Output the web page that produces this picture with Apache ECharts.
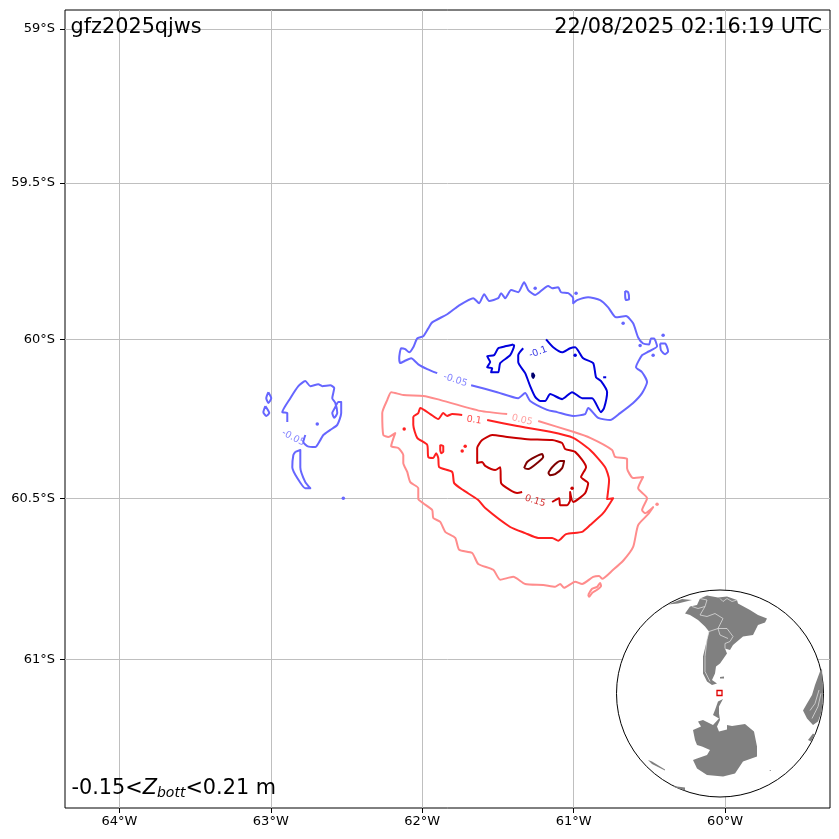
<!DOCTYPE html>
<html><head><meta charset="utf-8">
<style>html,body{margin:0;padding:0;background:#fff}#c{width:839px;height:839px}</style>
<script src="https://cdn.jsdelivr.net/npm/echarts@6/dist/echarts.min.js"></script>
</head><body><div id="c"></div>
<script>
const lonTicks=[-64,-63,-62,-61,-60];
const latTicks=[-59,-59.5,-60,-60.5,-61];
const blueMain=[[-61.901,-60.107],[-61.967,-60.094],[-62.026,-60.079],[-62.073,-60.060],[-62.106,-60.066],[-62.145,-60.075],[-62.152,-60.060],[-62.139,-60.028],[-62.112,-60.031],[-62.086,-60.041],[-62.059,-60.025],[-62.033,-59.997],[-61.993,-59.990],[-61.960,-59.965],[-61.934,-59.946],[-61.835,-59.920],[-61.762,-59.894],[-61.663,-59.869],[-61.624,-59.885],[-61.591,-59.856],[-61.558,-59.878],[-61.498,-59.869],[-61.479,-59.853],[-61.452,-59.869],[-61.413,-59.843],[-61.366,-59.850],[-61.327,-59.818],[-61.300,-59.843],[-61.254,-59.859],[-61.234,-59.853],[-61.168,-59.830],[-61.142,-59.837],[-61.102,-59.834],[-61.083,-59.850],[-61.036,-59.853],[-61.003,-59.869],[-61.003,-59.885],[-60.977,-59.875],[-60.904,-59.866],[-60.825,-59.875],[-60.772,-59.898],[-60.720,-59.930],[-60.654,-59.926],[-60.607,-59.949],[-60.574,-59.994],[-60.541,-60.013],[-60.502,-60.016],[-60.489,-59.997],[-60.469,-59.997],[-60.449,-60.022],[-60.515,-60.041],[-60.548,-60.050],[-60.588,-60.088],[-60.548,-60.104],[-60.515,-60.135],[-60.548,-60.170],[-60.607,-60.201],[-60.693,-60.233],[-60.759,-60.255],[-60.838,-60.248],[-60.904,-60.217],[-60.924,-60.236],[-61.003,-60.242],[-61.109,-60.230],[-61.175,-60.223],[-61.287,-60.195],[-61.320,-60.170],[-61.366,-60.186],[-61.505,-60.167],[-61.677,-60.145]];
const blueLeft=[[-62.772,-60.302],[-62.785,-60.324],[-62.759,-60.337],[-62.706,-60.340],[-62.673,-60.318],[-62.653,-60.302],[-62.607,-60.286],[-62.561,-60.270],[-62.535,-60.233],[-62.535,-60.198],[-62.554,-60.198],[-62.574,-60.214],[-62.594,-60.233],[-62.581,-60.248],[-62.561,-60.233],[-62.574,-60.201],[-62.594,-60.186],[-62.581,-60.154],[-62.607,-60.145],[-62.660,-60.148],[-62.686,-60.142],[-62.739,-60.148],[-62.772,-60.132],[-62.818,-60.148],[-62.871,-60.186],[-62.924,-60.230],[-62.891,-60.233],[-62.891,-60.261]];
const blueLoops=[
[[-62.838,-60.355],[-62.805,-60.349],[-62.805,-60.403],[-62.772,-60.450],[-62.739,-60.469],[-62.772,-60.469],[-62.825,-60.437],[-62.858,-60.403],[-62.851,-60.365],[-62.838,-60.355]],
[[-63.016,-60.167],[-62.997,-60.186],[-63.016,-60.201],[-63.030,-60.186],[-63.016,-60.167]],
[[-63.036,-60.211],[-63.010,-60.233],[-63.030,-60.242],[-63.049,-60.230],[-63.036,-60.211]],
[[-60.660,-59.846],[-60.640,-59.850],[-60.634,-59.872],[-60.654,-59.875],[-60.660,-59.859],[-60.660,-59.846]],
[[-60.429,-60.013],[-60.396,-60.013],[-60.376,-60.038],[-60.396,-60.047],[-60.423,-60.035],[-60.429,-60.013]]];
const blueDots=[[-61.254,-59.837],[-60.984,-59.853],[-60.673,-59.949],[-60.561,-60.019],[-60.409,-59.987],[-60.475,-60.050],[-62.521,-60.500],[-62.693,-60.267]];
const darkBlueLeft=[[-61.399,-60.016],[-61.452,-60.022],[-61.498,-60.028],[-61.525,-60.050],[-61.571,-60.053],[-61.551,-60.072],[-61.571,-60.088],[-61.538,-60.091],[-61.545,-60.104],[-61.498,-60.104],[-61.485,-60.075],[-61.419,-60.050],[-61.393,-60.019],[-61.399,-60.016]];
const darkBlueRight=[[-61.333,-60.028],[-61.366,-60.050],[-61.366,-60.072],[-61.320,-60.107],[-61.287,-60.148],[-61.254,-60.182],[-61.221,-60.195],[-61.188,-60.195],[-61.155,-60.173],[-61.076,-60.189],[-61.010,-60.167],[-60.944,-60.186],[-60.878,-60.186],[-60.819,-60.230],[-60.799,-60.217],[-60.779,-60.167],[-60.819,-60.132],[-60.852,-60.120],[-60.871,-60.075],[-60.937,-60.060],[-60.990,-60.025],[-61.023,-60.028],[-61.076,-60.041],[-61.135,-60.025],[-61.182,-60.000]];
const darkBlueDash=[[-60.805,-60.120],[-60.785,-60.120]];
const darkBlueDots=[[-60.990,-60.050]];
const navyLoop=[[-61.272,-60.106],[-61.260,-60.114],[-61.267,-60.122],[-61.274,-60.115],[-61.272,-60.106]];
const pinkMain=[[-61.234,-60.258],[-61.003,-60.292],[-60.891,-60.311],[-60.746,-60.349],[-60.726,-60.371],[-60.647,-60.377],[-60.647,-60.406],[-60.607,-60.437],[-60.541,-60.434],[-60.574,-60.469],[-60.515,-60.500],[-60.548,-60.537],[-60.528,-60.547],[-60.475,-60.528],[-60.508,-60.550],[-60.574,-60.584],[-60.607,-60.652],[-60.673,-60.695],[-60.739,-60.723],[-60.812,-60.751],[-60.832,-60.742],[-60.871,-60.745],[-60.944,-60.767],[-60.990,-60.760],[-61.063,-60.779],[-61.089,-60.767],[-61.122,-60.776],[-61.201,-60.770],[-61.320,-60.767],[-61.399,-60.745],[-61.485,-60.754],[-61.531,-60.723],[-61.630,-60.705],[-61.670,-60.671],[-61.756,-60.661],[-61.782,-60.624],[-61.848,-60.605],[-61.881,-60.574],[-61.927,-60.562],[-61.934,-60.537],[-61.993,-60.516],[-62.026,-60.503],[-62.026,-60.469],[-62.079,-60.450],[-62.099,-60.418],[-62.125,-60.390],[-62.125,-60.365],[-62.158,-60.343],[-62.205,-60.337],[-62.178,-60.296],[-62.224,-60.308],[-62.257,-60.302],[-62.264,-60.233],[-62.231,-60.192],[-62.205,-60.167],[-62.125,-60.176],[-61.993,-60.179],[-61.901,-60.189],[-61.617,-60.226],[-61.439,-60.236]];
const pinkIsland=[[-60.904,-60.801],[-60.878,-60.782],[-60.845,-60.776],[-60.825,-60.764],[-60.819,-60.773],[-60.845,-60.785],[-60.878,-60.795],[-60.898,-60.807],[-60.904,-60.801]];
const pinkDots=[[-60.449,-60.519]];
const redMain=[[-61.571,-60.255],[-61.373,-60.274],[-61.155,-60.292],[-61.003,-60.311],[-60.891,-60.349],[-60.792,-60.403],[-60.766,-60.443],[-60.779,-60.503],[-60.739,-60.500],[-60.805,-60.547],[-60.891,-60.584],[-60.944,-60.605],[-61.050,-60.612],[-61.102,-60.633],[-61.142,-60.624],[-61.234,-60.624],[-61.320,-60.609],[-61.419,-60.590],[-61.584,-60.531],[-61.630,-60.506],[-61.729,-60.475],[-61.789,-60.453],[-61.802,-60.418],[-61.888,-60.403],[-61.894,-60.374],[-61.908,-60.359],[-61.927,-60.374],[-61.960,-60.371],[-61.967,-60.333],[-62.033,-60.311],[-62.059,-60.270],[-62.059,-60.245],[-62.026,-60.233],[-62.013,-60.217],[-61.947,-60.236],[-61.894,-60.252],[-61.861,-60.233],[-61.835,-60.242],[-61.802,-60.236],[-61.736,-60.239]];
const redOval=[[-61.881,-60.333],[-61.861,-60.337],[-61.861,-60.355],[-61.875,-60.359],[-61.881,-60.349],[-61.881,-60.333]];
const redDots=[[-62.119,-60.283],[-61.716,-60.337],[-61.736,-60.352]];
const crimsonMain=[[-61.142,-60.512],[-61.096,-60.500],[-61.089,-60.522],[-61.043,-60.522],[-61.023,-60.506],[-61.023,-60.481],[-61.003,-60.512],[-60.924,-60.484],[-60.904,-60.453],[-60.951,-60.434],[-60.918,-60.403],[-60.990,-60.355],[-61.056,-60.346],[-61.076,-60.327],[-61.142,-60.318],[-61.307,-60.315],[-61.439,-60.308],[-61.538,-60.302],[-61.604,-60.318],[-61.637,-60.343],[-61.637,-60.390],[-61.604,-60.387],[-61.584,-60.399],[-61.518,-60.412],[-61.485,-60.403],[-61.479,-60.453],[-61.419,-60.475],[-61.373,-60.484],[-61.340,-60.481]];
const crimsonDots=[[-61.010,-60.469]];
const maroonBlobA=[[-61.327,-60.406],[-61.307,-60.387],[-61.254,-60.371],[-61.208,-60.362],[-61.201,-60.371],[-61.241,-60.390],[-61.300,-60.409],[-61.327,-60.406]];
const maroonBlobB=[[-61.168,-60.421],[-61.142,-60.403],[-61.089,-60.384],[-61.063,-60.384],[-61.076,-60.406],[-61.122,-60.425],[-61.155,-60.428],[-61.168,-60.421]];
const contourLabels=[[-61.782,-60.129,'-0.05',-18,'#6666ff'],[-61.234,-60.041,'-0.1',20,'#0000dd'],[-61.340,-60.255,'0.05',-13,'#ff8888'],[-61.657,-60.255,'0.1',-8,'#ff2020'],[-61.254,-60.509,'0.15',-17,'#cc0000'],[-62.851,-60.311,'-0.05',-28,'#6666ff']];

// inset globe, disc coordinates
const southAmerica=[[-35,80],[-30,87],[-23,88.5],[-20,95],[-13,98],[-2,96],[7,97],[17,93.5],[18,90],[30,83.5],[38,78.5],[47,75],[45,71],[38,68.5],[33,58.5],[23,57],[13,48.5],[10,43.5],[5,45],[7,40],[0,30],[-4,27],[-5,20],[-8,13.5],[-3,10],[-8,8.5],[-13,12],[-17,20],[-17,37],[-11,62],[-15,67],[-22,73.5],[-30,78.5]];
const antarctica=[[3,-5.5],[-2,-8],[-5,-16.5],[-7,-21.5],[-1,-25],[-7,-31.5],[-17,-26.5],[-22,-28],[-19,-33],[-27,-36.5],[-25,-46.5],[-23,-51.5],[-18,-53],[-10,-56.5],[-13,-61.5],[-23,-65],[-27,-66.5],[-23,-75],[-13,-81.5],[3,-83],[15,-80],[23,-68],[37,-63],[37,-53],[34,-38],[25,-30.5],[12,-32.5],[7,-31.5],[7,-36],[-1,-38],[-3,-33],[0,-26.5],[-1,-20],[-1,-13]];
const africa=[[102,25],[100,22],[95,8.5],[92,-1.5],[87,-10],[83,-17],[87,-25],[93,-31.5],[98,-28],[102,-17],[103,3.5]];
const madagascar=[[88,-46.5],[93,-40],[95,-41.5],[91,-48]];
const falkland=[[0,16.5],[4,17],[4,15],[0,15]];
const shelfA=[[-72,-66.5],[-68,-70.5],[-55,-77],[-55,-76],[-68,-68]];
const shelfB=[[-47,-92.5],[-35,-94],[-35,-97],[-45,-94]];
const shelfC=[[49,-77.5],[51,-76.5],[51,-77.5]];
const centralAm=[[-52,89],[-38,94.5],[-28,93.5],[-42,90]];
const arabia=[[77,70],[85,55],[84,57],[76,71]];
const landRings=[southAmerica,antarctica,africa,madagascar,falkland,shelfA,shelfB,shelfC,centralAm,arabia];
const borderLines=[
[[-11,62],[-13,54],[-15,37],[-15,22],[-10,12]],
[[-20,95],[-13,93.5],[-15,87],[-22,85],[-28,87]],
[[-15,87],[-20,78.5],[-13,77],[-5,80],[3,75],[-2,65],[7,65],[13,57],[10,52],[5,50],[5,45]],
[[-11,62],[-2,65]],
[[-2,65],[0,58.5],[8,55]],
[[0,95],[3,92],[7,95],[12,92],[17,93.5]],
[[90,-17],[95,-10],[99,3.5]],
[[92,-25],[98,-13],[101,0.2]]];
const globeCentre=[[0,0]];
const regionBox=[[-0.5,0.5]];

const merc=lat=>-Math.asinh(Math.tan(Math.abs(lat)*Math.PI/180));
const invMerc=m=>-Math.atan(Math.sinh(-m))*180/Math.PI;
const P=pts=>pts.map(p=>[p[0],merc(p[1])]);
const L=(pts,color)=>({type:'line',xAxisIndex:0,yAxisIndex:0,data:P(pts),showSymbol:false,symbol:'none',silent:true,z:5,
  lineStyle:{color:color,width:2,join:'round'},smooth:0.2});
const D=(pts,color,size)=>({type:'scatter',xAxisIndex:0,yAxisIndex:0,data:P(pts),symbolSize:size||3.5,itemStyle:{color:color,opacity:1},silent:true,z:5});
const C={b1:'#6666ff',b2:'#0000dd',b3:'#00006e',r1:'#ff8c8c',r2:'#ff2020',r3:'#c80000',r4:'#800000'};
const series=[
 L(blueMain,C.b1),L(blueLeft,C.b1),...blueLoops.map(r=>L(r,C.b1)),D(blueDots,C.b1),
 L(darkBlueLeft,C.b2),L(darkBlueRight,C.b2),L(darkBlueDash,C.b2),D(darkBlueDots,C.b2),L(navyLoop,C.b3),
 L(pinkMain,C.r1),L(pinkIsland,C.r1),D(pinkDots,C.r1),
 L(redMain,C.r2),L(redOval,C.r2),D(redDots,C.r2),
 L(crimsonMain,C.r3),D(crimsonDots,C.r3),L(maroonBlobA,C.r4),L(maroonBlobB,C.r4),
 {type:'scatter',xAxisIndex:0,yAxisIndex:0,symbolSize:0,silent:true,z:6,
  data:contourLabels.map(l=>({value:[l[0],merc(l[1])],label:{show:true,position:'inside',formatter:l[2],rotate:l[3],color:l[4],fontSize:9.5,fontFamily:'DejaVu Sans'}}))},
 {type:'scatter',xAxisIndex:1,yAxisIndex:1,data:globeCentre,symbolSize:207,silent:true,z:10,
  itemStyle:{color:'#fff',borderColor:'#000',borderWidth:1,opacity:1}},
 {type:'custom',xAxisIndex:1,yAxisIndex:1,silent:true,z:11,clip:false,data:landRings.map((r,i)=>[i]),
  renderItem:(p,api)=>({type:'polygon',shape:{points:landRings[api.value(0)].map(q=>api.coord(q))},style:{fill:'#808080'}})},
 ...borderLines.map(b=>({type:'line',xAxisIndex:1,yAxisIndex:1,data:b,symbol:'none',silent:true,z:12,lineStyle:{color:'#e8e8e8',width:0.7}})),
 {type:'scatter',xAxisIndex:1,yAxisIndex:1,data:regionBox,symbol:'rect',symbolSize:5,silent:true,z:13,
  itemStyle:{color:'rgba(255,255,255,0)',borderColor:'#e00000',borderWidth:1.3,opacity:1}}
];
const font='DejaVu Sans';
const option={animation:false,backgroundColor:'#fff',
 title:[
  {text:'gfz2025qjws',left:70.5,top:17,padding:0,textStyle:{fontFamily:font,fontSize:20.8,fontWeight:'normal',color:'#000'},z:20},
  {text:'22/08/2025 02:16:19 UTC',right:17,top:17,padding:0,textStyle:{fontFamily:font,fontSize:20.8,fontWeight:'normal',color:'#000'},z:20},
  {text:'{a|-0.15<}{i|Z}{s|bott}{a|<0.21 m}',left:71.5,top:778,padding:0,z:20,textStyle:{fontWeight:'normal',rich:{
    a:{fontFamily:font,fontSize:20.8,fontWeight:'normal',color:'#000'},
    i:{fontFamily:font,fontSize:20.8,fontStyle:'italic',fontWeight:'normal',color:'#000'},
    s:{fontFamily:font,fontSize:14,fontStyle:'italic',fontWeight:'normal',color:'#000',padding:[8,0,0,0]}}}}
 ],
 grid:[{left:65,top:10,width:765,height:798,show:true,borderColor:'#000',borderWidth:1,backgroundColor:'#fff'},
       {left:616,top:589.5,width:208,height:208,show:false}],
 xAxis:[{type:'value',gridIndex:0,min:-64.359,max:-59.307,
   axisLine:{show:false},
   axisTick:{show:true,length:5,customValues:lonTicks,lineStyle:{color:'#000',width:1}},
   axisLabel:{customValues:lonTicks,formatter:v=>(-v)+'°W',color:'#000',fontFamily:font,fontSize:13,margin:7},
   splitLine:{show:true,lineStyle:{color:'#bfbfbf',width:1}}},
  {type:'value',gridIndex:1,min:-104,max:104,show:false,splitLine:{show:false}}],
 yAxis:[{type:'value',gridIndex:0,min:merc(-61.454),max:merc(-58.938),
   axisLine:{show:false},
   axisTick:{show:true,length:5,customValues:latTicks.map(merc),lineStyle:{color:'#000',width:1}},
   axisLabel:{customValues:latTicks.map(merc),formatter:v=>(Math.round(-invMerc(v)*10)/10)+'°S',color:'#000',fontFamily:font,fontSize:13,margin:10},
   splitLine:{show:true,lineStyle:{color:'#bfbfbf',width:1}}},
  {type:'value',gridIndex:1,min:-104,max:104,show:false,splitLine:{show:false}}],
 series:series};
echarts.init(document.getElementById('c'),null,{renderer:'canvas'}).setOption(option);
</script></body></html>
